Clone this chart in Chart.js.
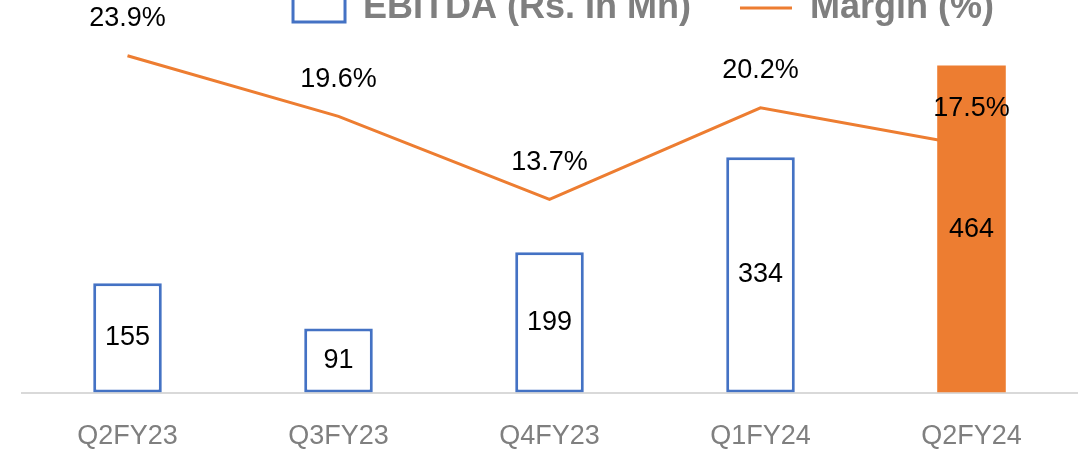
<!DOCTYPE html>
<html>
<head>
<meta charset="utf-8">
<script src="https://cdn.jsdelivr.net/npm/chart.js@4/dist/chart.umd.min.js"></script>
<style>
  html, body { margin: 0; padding: 0; background: #fff; overflow: hidden; }
  /* canvas pushed up so the legend sits half cut at the top edge, like the source crop */
  #holder { position: absolute; left: 0; top: -59px; width: 1084px; height: 540px; }
</style>
</head>
<body>
<div id="holder"><canvas id="ebitda-chart"></canvas></div>
<script>
const quarters = ['Q2FY23', 'Q3FY23', 'Q4FY23', 'Q1FY24', 'Q2FY24'];
const ebitda = [155, 91, 199, 334, 464];
const margin = [23.9, 19.6, 13.7, 20.2, 17.5];
const barFill = ['#ffffff', '#ffffff', '#ffffff', '#ffffff', '#ED7D31'];
const barEdge = ['#4472C4', '#4472C4', '#4472C4', '#4472C4', '#ED7D31'];
const barEdgeWidth = [3, 3, 3, 3, 0];

const font = '"Liberation Sans", Arial, sans-serif';

// labels: values in the middle of bars, margins above the line points
const valueLabels = {
    id: 'valueLabels',
    afterDatasetsDraw(chart) {
        const ctx = chart.ctx;
        ctx.save();
        ctx.font = '27px ' + font;
        ctx.fillStyle = '#000000';
        ctx.textAlign = 'center';
        ctx.textBaseline = 'middle';
        chart.getDatasetMeta(0).data.forEach((bar, i) => {
            ctx.fillText(ebitda[i], bar.x, (bar.y + bar.base) / 2);
        });
        chart.getDatasetMeta(1).data.forEach((pt, i) => {
            ctx.fillText(margin[i].toFixed(1) + '%', pt.x, pt.y - 37);
        });
        ctx.restore();
    }
};

// legend in the source is not centred over the plot, nudge it right
const legendShift = {
    id: 'legendShift',
    afterLayout(chart) {
        chart.legend.left += 94;
        chart.legend.right += 94;
    }
};

new Chart('ebitda-chart', {
    type: 'bar',
    data: {
        labels: quarters,
        datasets: [{
            label: 'EBITDA (Rs. In Mn)',
            data: ebitda,
            backgroundColor: barFill,
            borderColor: barEdge,
            borderWidth: barEdgeWidth,
            borderSkipped: false,
            barPercentage: 0.325,
            categoryPercentage: 1,
            pointStyle: 'rect',
            yAxisID: 'y',
            order: 0
        }, {
            type: 'line',
            label: 'Margin (%)',
            data: margin,
            borderColor: '#ED7D31',
            backgroundColor: '#ED7D31',
            borderWidth: 3,
            pointRadius: 0,
            pointStyle: 'line',
            tension: 0,
            yAxisID: 'y1',
            order: 1
        }]
    },
    options: {
        responsive: true,
        maintainAspectRatio: false,
        animation: false,
        layout: { padding: { left: 22, right: 7, bottom: 0 } },
        plugins: {
            legend: {
                labels: {
                    usePointStyle: true,
                    pointStyleWidth: 52,
                    boxHeight: 28,
                    padding: 49,
                    color: '#7f7f7f',
                    font: { family: font, size: 36, weight: 'bold' }
                }
            },
            tooltip: { enabled: false }
        },
        scales: {
            x: {
                grid: { display: false, drawTicks: false },
                border: { display: true, color: '#d9d9d9', width: 2 },
                ticks: { color: '#7f7f7f', padding: 28, font: { family: font, size: 27 } }
            },
            y: { display: false, min: 0, max: 506 },
            y1: { display: false, min: 0, max: 25.3 }
        }
    },
    plugins: [valueLabels, legendShift]
});
</script>
</body>
</html>
